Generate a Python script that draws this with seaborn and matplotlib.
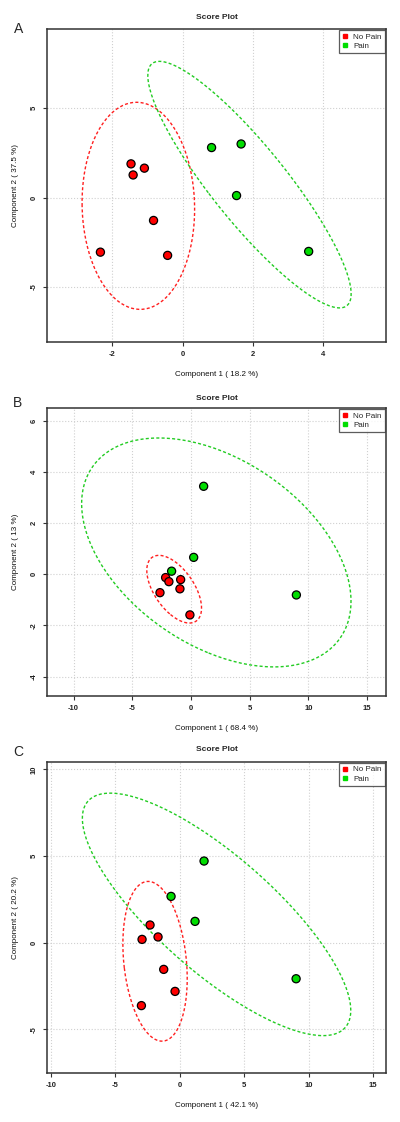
import numpy as np
import pandas as pd
import matplotlib
matplotlib.use("Agg")
import matplotlib.pyplot as plt
from matplotlib.lines import Line2D
import seaborn as sns

# score values
a_x = [-1.47, -1.09, -1.41, -0.83, -2.34, -0.43, 0.82, 1.66, 1.53, 3.58]
a_y = [1.88, 1.64, 1.26, -1.28, -3.05, -3.23, 2.79, 2.99, 0.11, -3.01]
b_x = [-2.16, -1.88, -0.88, -0.94, -2.64, -0.09, 1.08, 0.23, -1.65, 8.98]
b_y = [-0.13, -0.29, -0.21, -0.57, -0.72, -1.59, 3.44, 0.66, 0.12, -0.81]
c_x = [-2.30, -1.68, -2.92, -1.24, -0.36, -2.97, 1.89, -0.67, 1.19, 9.03]
c_y = [1.02, 0.33, 0.19, -1.54, -2.81, -3.63, 4.71, 2.67, 1.23, -2.08]
groups = ["No Pain"] * 6 + ["Pain"] * 4

panel_letters = ["A", "B", "C"]
x_labels = ["Component 1 ( 18.2 %)", "Component 1 ( 68.4 %)", "Component 1 ( 42.1 %)"]
y_labels = ["Component 2 ( 37.5 %)", "Component 2 ( 13 %)", "Component 2 ( 20.2 %)"]
x_ticks = [[-2, 0, 2, 4], [-10, -5, 0, 5, 10, 15], [-10, -5, 0, 5, 10, 15]]
y_ticks = [[-5, 0, 5], [-4, -2, 0, 2, 4, 6], [-5, 0, 5, 10]]
x_lims = [(-3.85, 5.77), (-12.24, 16.59), (-10.27, 15.98)]
y_lims = [(-8.05, 9.41), (-4.75, 6.49), (-7.5, 10.44)]

colors = {"No Pain": "#FF0000", "Pain": "#00DD00"}
ell_colors = {"No Pain": "#FF2020", "Pain": "#22CC22"}

sns.set_style("white")
plt.rcParams['font.family'] = ['Liberation Sans', 'DejaVu Sans']
plt.rcParams['axes.unicode_minus'] = False

W, H = 400, 1122
fig = plt.figure(figsize=(W / 100, H / 100), dpi=100)

# axes boxes in pixels: left, top, right, bottom
boxes = [(47.3, 29, 385.7, 341.7), (47.3, 408.3, 385.7, 695.7), (47.3, 761.7, 385.7, 1072.7)]
title_pads = [7, 6, 8]
letter_pos = [(19, 29), (18, 403), (18, 752)]

data = [(a_x, a_y), (b_x, b_y), (c_x, c_y)]


def conf_ellipse(x, y, level=0.95, n=200):
    pts = np.column_stack([x, y])
    mu = pts.mean(axis=0)
    cov = np.cov(pts, rowvar=False)
    t = np.sqrt(-2 * np.log(1 - level))
    vals, vecs = np.linalg.eigh(cov)
    th = np.linspace(0, 2 * np.pi, n)
    circ = np.vstack([np.cos(th), np.sin(th)])
    e = vecs @ (np.sqrt(vals)[:, None] * circ) * t
    return mu[0] + e[0], mu[1] + e[1]


for i, (xs, ys) in enumerate(data):
    l, t, r, b = boxes[i]
    ax = fig.add_axes([l / W, 1 - b / H, (r - l) / W, (b - t) / H])
    df = pd.DataFrame({"x": xs, "y": ys, "group": groups})

    for g in ["No Pain", "Pain"]:
        sub = df[df.group == g]
        ex, ey = conf_ellipse(sub.x.values, sub.y.values)
        ax.plot(ex, ey, color=ell_colors[g], lw=1.0, ls=(0, (2.2, 1.6)), zorder=2)

    sns.scatterplot(data=df, x="x", y="y", hue="group", palette=colors,
                    s=34, edgecolor="black", linewidth=0.9, legend=False, ax=ax, zorder=3)

    ax.set_xlim(*x_lims[i])
    ax.set_ylim(*y_lims[i])
    ax.set_xticks(x_ticks[i])
    ax.set_yticks(y_ticks[i])
    ax.grid(True, color="#d0d0d0", ls=":", lw=0.8)
    ax.set_axisbelow(True)
    for sp in ax.spines.values():
        sp.set_color("#333333")
        sp.set_linewidth(1.1)
    ax.tick_params(axis="both", direction="out", length=3, width=0.8, color="#333333",
                   labelsize=5.5, labelcolor="#222222", pad=4, left=True, bottom=True)
    for lab in ax.get_xticklabels() + ax.get_yticklabels():
        lab.set_fontweight("bold")
    for lab in ax.get_yticklabels():
        lab.set_rotation(90)
        lab.set_va("center")
    ax.set_xlabel(x_labels[i], fontsize=5.8, color="#111111", labelpad=9)
    ax.set_ylabel(y_labels[i], fontsize=5.8, color="#111111", labelpad=8)
    ax.set_title("Score Plot", fontsize=6, fontweight="bold", pad=title_pads[i])

    handles = [Line2D([], [], ls="", marker="s", markersize=2.5, color=colors[g], label=g)
               for g in ["No Pain", "Pain"]]
    leg = ax.legend(handles=handles, loc="upper right", fontsize=5.8, frameon=True,
                    fancybox=False, borderaxespad=0.1, handlelength=0.8, handletextpad=0.6,
                    borderpad=0.4, labelspacing=0.2)
    leg.get_frame().set_edgecolor("#333333")
    leg.get_frame().set_linewidth(0.9)

    lx, ly = letter_pos[i]
    fig.text(lx / W, 1 - ly / H, panel_letters[i], fontsize=10, ha="center", va="center")

fig.savefig("out.png", dpi=100)
